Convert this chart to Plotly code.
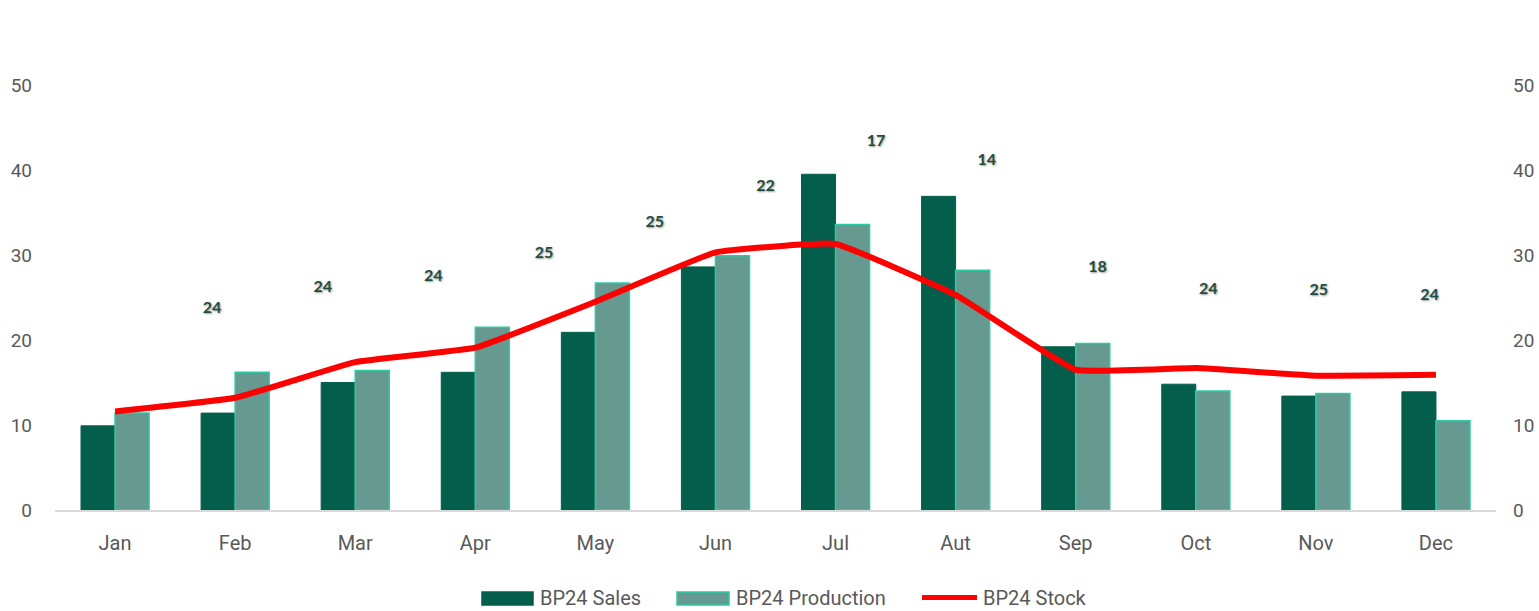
import plotly.graph_objects as go

months = ["Jan", "Feb", "Mar", "Apr", "May", "Jun", "Jul", "Aut", "Sep", "Oct", "Nov", "Dec"]
sales = [9.9, 11.4, 15.0, 16.2, 20.9, 28.6, 39.5, 36.9, 19.2, 14.8, 13.4, 13.9]
production = [11.4, 16.2, 16.4, 21.5, 26.7, 29.9, 33.6, 28.2, 19.6, 14.0, 13.7, 10.5]
stock = [11.6, 13.2, 17.4, 19.1, 24.5, 30.3, 31.3, 25.3, 16.5, 16.7, 15.8, 15.9]
# data-label series (text shown and its plotted height on the value axis)
label_text = ["24", "24", "24", "25", "25", "22", "17", "14", "18", "24", "25", "24"]
label_y = [23.7, 26.1, 27.4, 30.1, 33.8, 38.0, 43.3, 41.1, 28.5, 25.9, 25.8, 25.2]

series_names = ["BP24 Sales", "BP24 Production", "BP24 Stock"]
tick_vals = [0, 10, 20, 30, 40, 50]

FONT = "Roboto, sans-serif"
GRAY = "#595959"
SALES_C = "#035F4C"
PROD_C = "#66998F"
PROD_EDGE = "#2ACCA5"
LINE_C = "#FF0000"

fig = go.Figure()
fig.add_trace(go.Bar(
    x=months, y=sales, name=series_names[0], showlegend=False,
    marker=dict(color=SALES_C, line=dict(color=SALES_C, width=1)),
))
fig.add_trace(go.Bar(
    x=months, y=production, name=series_names[1], showlegend=False,
    marker=dict(color=PROD_C, line=dict(color=PROD_EDGE, width=1.5)),
))
fig.add_trace(go.Scatter(
    x=months, y=stock, name=series_names[2], mode="lines", showlegend=False,
    line=dict(color=LINE_C, width=6, shape="spline", smoothing=0.3),
))
fig.add_trace(go.Scatter(
    x=list(range(len(label_text))), y=label_y, text=label_text, mode="text",
    xaxis="x2", showlegend=False, hoverinfo="skip",
    textposition="middle center",
    textfont=dict(family="Lato, Open Sans, sans-serif", size=16, color="#1F4E3D",
                  weight="bold", shadow="1px 1px 2px #9a9a9a"),
))
# right-hand scale
fig.add_trace(go.Scatter(x=[months[0]], y=[0], yaxis="y2", mode="markers",
                         marker=dict(opacity=0), showlegend=False, hoverinfo="skip"))

# --- legend drawn as keys below the plot (layout positions in page pixels) ---
W, H = 1539, 611
PL, PR, PT, PB = 55, 1496, 85, 510   # plot area in page pixels


def px_x(p):
    return (p - PL) / (PR - PL)


def px_y(p):
    return (PB - p) / (PB - PT)


key_y0, key_y1, key_mid = 592, 605, 597.5
keys = [
    (series_names[0], "rect", 482, 533, 538, SALES_C, SALES_C),
    (series_names[1], "rect", 677, 729, 734, PROD_C, PROD_EDGE),
    (series_names[2], "line", 922, 977, 981, LINE_C, LINE_C),
]
for name, kind, x0, x1, tx, fill, edge in keys:
    if kind == "rect":
        fig.add_shape(type="rect", xref="paper", yref="paper",
                      x0=px_x(x0), x1=px_x(x1), y0=px_y(key_y1), y1=px_y(key_y0),
                      fillcolor=fill, line=dict(color=edge, width=1.5))
    else:
        fig.add_shape(type="line", xref="paper", yref="paper",
                      x0=px_x(x0), x1=px_x(x1), y0=px_y(key_mid), y1=px_y(key_mid),
                      line=dict(color=fill, width=5))
    fig.add_annotation(text=name, xref="paper", yref="paper",
                       x=px_x(tx), y=px_y(key_mid), xanchor="left", yanchor="middle",
                       showarrow=False, font=dict(size=20, color=GRAY, family=FONT))

fig.update_layout(
    template="none",
    width=W, height=H,
    paper_bgcolor="white", plot_bgcolor="white",
    margin=dict(l=PL, r=W - PR, t=PT, b=H - PB),
    barmode="group", bargap=0.433, bargroupgap=0,
    font=dict(family=FONT, color=GRAY, size=20),
    showlegend=False,
    xaxis=dict(
        type="category", range=[-0.5, 11.5], showgrid=False, automargin=False,
        showline=True, linecolor="#D9D9D9", linewidth=1.5, zeroline=False,
        ticks="", tickfont=dict(size=20, color=GRAY), ticklabelstandoff=14,
    ),
    xaxis2=dict(
        overlaying="x", range=[-1.418, 11.6], visible=False,
        type="linear", automargin=False,
    ),
    yaxis=dict(
        range=[0, 50], tickvals=tick_vals, showgrid=False, zeroline=False,
        showline=False, ticks="", tickfont=dict(size=19, color=GRAY),
        ticklabelstandoff=22, automargin=False,
    ),
    yaxis2=dict(
        range=[0, 50], tickvals=tick_vals, showgrid=False, zeroline=False,
        overlaying="y", side="right", showline=False, ticks="",
        tickfont=dict(size=19, color=GRAY), ticklabelstandoff=16, automargin=False,
    ),
)

fig.write_html(
    "out.html",
    config={"displayModeBar": False},
    post_script="document.body.style.margin='0';document.body.style.overflow='hidden';",
)
